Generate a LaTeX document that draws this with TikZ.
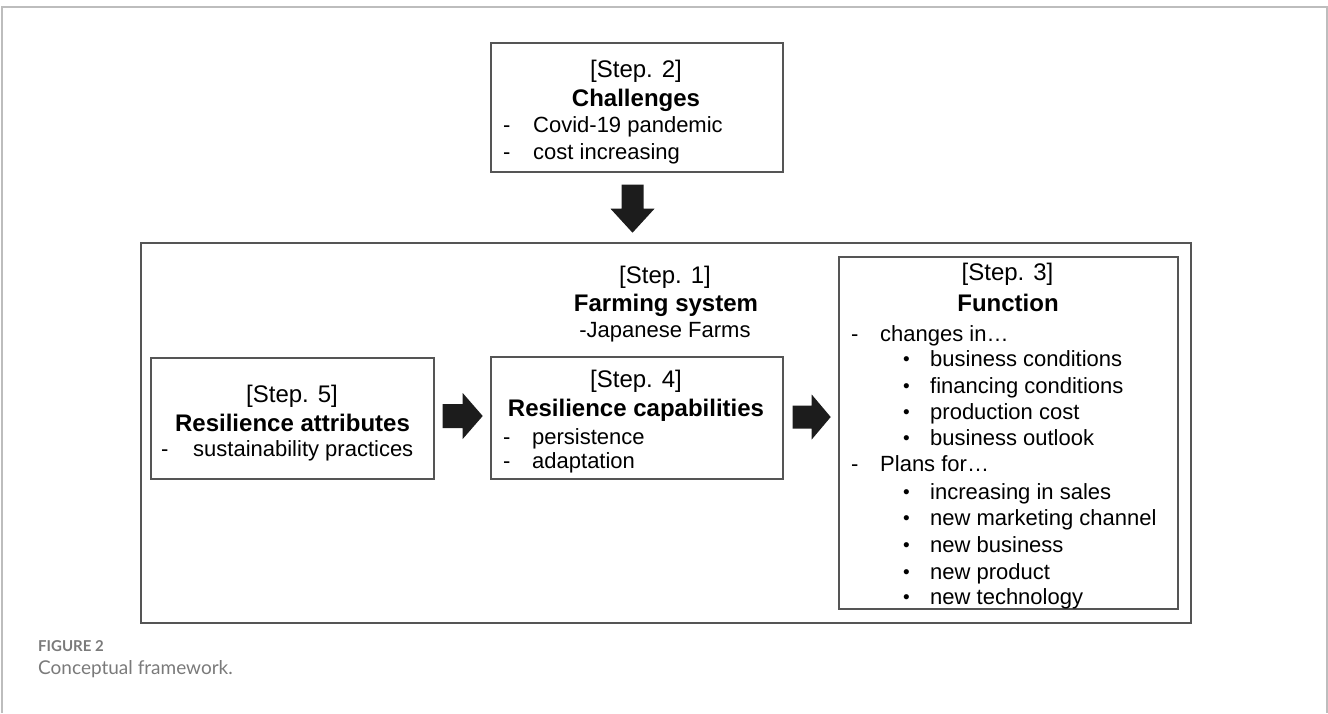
\documentclass[tikz,border=0pt]{standalone}
\usepackage{fontspec}
\setmainfont{Liberation Sans}
\newfontfamily\capfont{Lato}
\usetikzlibrary{calc}
\definecolor{boxline}{HTML}{555555}
\definecolor{arrowfill}{HTML}{1C1C1C}
\definecolor{framegray}{HTML}{BDBDBD}
\definecolor{capgray}{HTML}{7A7A7A}
\begin{document}
\begin{tikzpicture}[x=1pt,y=-1pt,
  box/.style={draw=boxline,line width=1.4pt,rectangle,inner sep=0pt},
  txt/.style={anchor=base,yshift=-7.5pt,inner sep=0pt,font=\fontsize{22}{26}\selectfont},
  txtl/.style={anchor=base west,yshift=-7.5pt,inner sep=0pt,font=\fontsize{22}{26}\selectfont},
  bul/.style={anchor=base west,yshift=-6.8pt,inner sep=0pt,font=\fontsize{19}{22}\selectfont},
  hd/.style={anchor=base,yshift=-8pt,inner sep=0pt,font=\fontsize{24}{28}\selectfont},
  hdb/.style={anchor=base,yshift=-8pt,inner sep=0pt,font=\fontsize{24}{28}\selectfont\bfseries},
  arr/.style={fill=arrowfill},
  captxt/.style={anchor=base west,inner sep=0pt,text=capgray}]
\useasboundingbox (0,0) rectangle (1328,713);
% page frame
\draw[framegray,line width=1.5pt] (2,713) -- (2,7) -- (1327,7) -- (1327,713);

% boxes
\node[box,minimum width=292pt,minimum height=129pt] (s2) at (637,107.5) {};
\node[box,minimum width=1050pt,minimum height=380pt] (outer) at (666,433) {};
\node[box,minimum width=283pt,minimum height=121pt] (s5) at (292.5,418.5) {};
\node[box,minimum width=292pt,minimum height=122pt] (s4) at (637,418) {};
\node[box,minimum width=339pt,minimum height=352pt] (s3) at (1008.5,433) {};

% Step 2
\node[hd] (t2a) at (636,69) {[Step. 2]};
\node[hdb] (t2b) at (636,98) {Challenges};
\node[txtl] (t2c) at (503,125) {-};
\node[txtl] (t2d) at (533,125) {Covid-19 pandemic};
\node[txtl] (t2e) at (503,152) {-};
\node[txtl] (t2f) at (533,152) {cost increasing};

% Step 1
\node[hd] (t1a) at (665,275) {[Step. 1]};
\node[hdb] (t1b) at (666,303) {Farming system};
\node[txt] (t1c) at (665,330) {-Japanese Farms};

% Step 5
\node[hd] (t5a) at (292,394) {[Step. 5]};
\node[hdb] (t5b) at (292.5,423) {Resilience attributes};
\node[txtl] (t5c) at (161,449) {-};
\node[txtl] (t5d) at (193,449) {sustainability practices};

% Step 4
\node[hd] (t4a) at (636,379) {[Step. 4]};
\node[hdb] (t4b) at (636,408) {Resilience capabilities};
\node[txtl] (t4c) at (503,437) {-};
\node[txtl] (t4d) at (532,437) {persistence};
\node[txtl] (t4e) at (503,461) {-};
\node[txtl] (t4f) at (532,461) {adaptation};

% Step 3
\node[hd] (t3a) at (1007.5,272) {[Step. 3]};
\node[hdb] (t3b) at (1008,303) {Function};
\node[txtl] (d1) at (851,334) {-};
\node[txtl] (l1) at (880,334) {changes in…};
\node[bul] (b1) at (903,359) {•};
\node[txtl] (l2) at (930,359) {business conditions};
\node[bul] (b2) at (903,386) {•};
\node[txtl] (l3) at (930,386) {financing conditions};
\node[bul] (b3) at (903,412) {•};
\node[txtl] (l4) at (930,412) {production cost};
\node[bul] (b4) at (903,438) {•};
\node[txtl] (l5) at (930,438) {business outlook};
\node[txtl] (d2) at (851,464) {-};
\node[txtl] (l6) at (880,464) {Plans for…};
\node[bul] (b5) at (903,492) {•};
\node[txtl] (l7) at (930,492) {increasing in sales};
\node[bul] (b6) at (903,518) {•};
\node[txtl] (l8) at (930,518) {new marketing channel};
\node[bul] (b7) at (903,545) {•};
\node[txtl] (l9) at (930,545) {new business};
\node[bul] (b8) at (903,572) {•};
\node[txtl] (l10) at (930,572) {new product};
\node[bul] (b9) at (903,597) {•};
\node[txtl] (l11) at (930,597) {new technology};

% block arrows
\fill[arr] ($(s2.south)+(-15.5,12)$) -- ++(0,24) -- ++(-11,0) -- ++(22,24)
  -- ++(22,-24) -- ++(-11,0) -- ++(0,-24) -- cycle;
\fill[arr] ($(s5.east)+(8,-14.5)$) -- ++(20,0) -- ++(0,-11) -- ++(20,23)
  -- ++(-20,23) -- ++(0,-11) -- ++(-20,0) -- cycle;
\fill[arr] ($(s4.east)+(9,-12.5)$) -- ++(19,0) -- ++(0,-11) -- ++(19,22.5)
  -- ++(-19,22.5) -- ++(0,-11) -- ++(-19,0) -- cycle;

% caption
\node[captxt,font=\capfont\bfseries\fontsize{15}{17}\selectfont] (fig) at (38,651) {FIGURE 2};
\node[captxt,font=\capfont\fontsize{19}{22}\selectfont] (capt) at (38,674) {Conceptual framework.};
\end{tikzpicture}
\end{document}
